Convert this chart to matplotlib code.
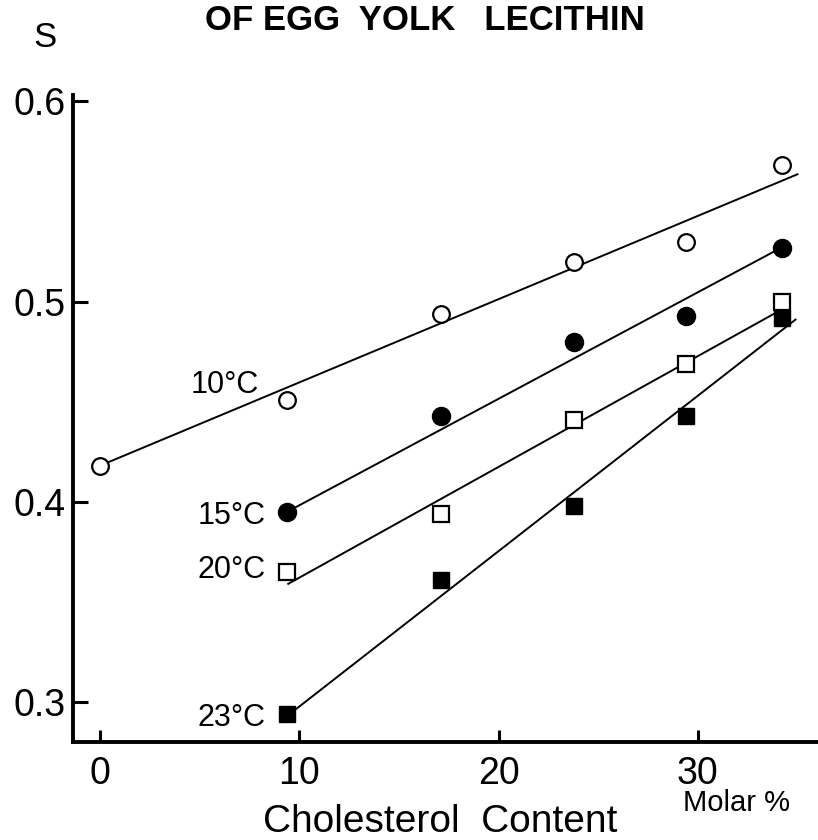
import matplotlib
matplotlib.use("Agg")
import matplotlib.pyplot as plt

# molar % cholesterol and order parameter S for each temperature
x_all = [0, 9.4, 17.1, 23.8, 29.4, 34.2]
s_10 = [0.418, 0.451, 0.494, 0.520, 0.530, 0.568]
x_warm = [9.4, 17.1, 23.8, 29.4, 34.2]
s_15 = [0.395, 0.443, 0.480, 0.493, 0.527]
s_20 = [0.365, 0.394, 0.441, 0.469, 0.500]
s_23 = [0.294, 0.361, 0.398, 0.443, 0.492]

# hand-drawn fit lines (start, end)
fit_10 = ([0, 35.0], [0.418, 0.5636])
fit_15 = ([9.4, 34.2], [0.395, 0.527])
fit_20 = ([9.45, 34.2], [0.359, 0.496])
fit_23 = ([9.4, 34.9], [0.293, 0.491])

labels = ["10°C", "15°C", "20°C", "23°C"]
xticks = [0, 10, 20, 30]
yticks = [0.3, 0.4, 0.5, 0.6]

plt.rcParams["font.family"] = ["Liberation Sans", "DejaVu Sans"]

fig = plt.figure(figsize=(8.18, 8.4), dpi=100)
ax = fig.add_axes([0.0892, 0.1167, 0.9108, 0.7864])

ax.plot(*fit_10, color="black", lw=1.4)
ax.plot(*fit_15, color="black", lw=1.4)
ax.plot(*fit_20, color="black", lw=1.4)
ax.plot(*fit_23, color="black", lw=1.4)

ax.plot(x_all, s_10, "o", ms=12, mfc="white", mec="black", mew=1.6)
ax.plot(x_warm, s_15, "o", ms=13, mfc="black", mec="black")
ax.plot(x_warm, s_20, "s", ms=11, mfc="white", mec="black", mew=1.6)
ax.plot(x_warm, s_23, "s", ms=12, mfc="black", mec="black")

# temperature tags left of the first points
ax.text(8.0, 0.4584, labels[0], ha="right", va="center", fontsize=22)
ax.text(8.3, 0.393, labels[1], ha="right", va="center", fontsize=22)
ax.text(8.3, 0.366, labels[2], ha="right", va="center", fontsize=22)
ax.text(8.3, 0.292, labels[3], ha="right", va="center", fontsize=22)

ax.set_xlim(-1.35, 36.03)
ax.set_ylim(0.28, 0.61)
ax.spines["top"].set_visible(False)
ax.spines["right"].set_visible(False)
ax.spines["left"].set_bounds(0.28, 0.603)
for sp in ("left", "bottom"):
    ax.spines[sp].set_linewidth(2.8)

ax.set_xticks(xticks)
ax.set_xticklabels([str(t) for t in xticks])
ax.set_yticks(yticks)
ax.set_yticklabels([str(t) for t in yticks])
ax.tick_params(axis="both", direction="in", width=2.2, labelsize=27)
ax.tick_params(axis="x", length=9, pad=10)
ax.tick_params(axis="y", length=11, pad=5)

fig.text(0.52, 0.975, "OF EGG  YOLK   LECITHIN", ha="center", va="center",
         fontsize=25, fontweight="bold")
fig.text(0.055, 0.955, "S", ha="center", va="center", fontsize=25)
fig.text(0.538, 0.021, "Cholesterol  Content", ha="center", va="center", fontsize=28)
fig.text(0.9, 0.044, "Molar %", ha="center", va="center", fontsize=21)

fig.savefig("out.png", dpi=100)
